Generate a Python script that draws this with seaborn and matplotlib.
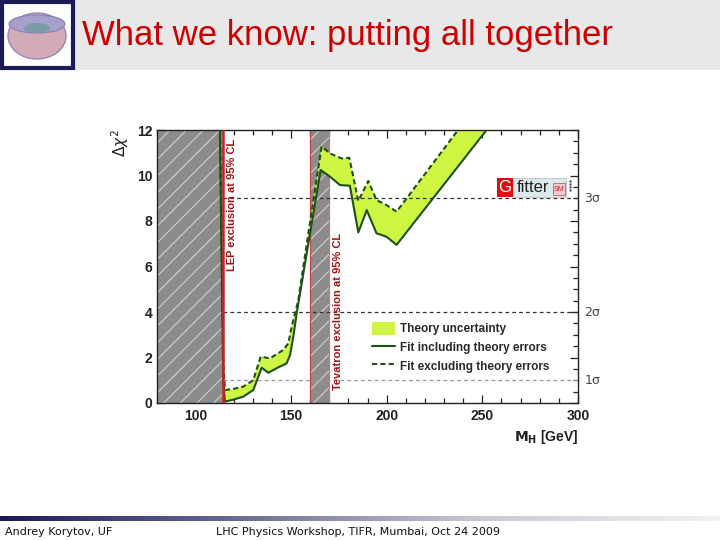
import numpy as np
import matplotlib
matplotlib.use("Agg")
import matplotlib.pyplot as plt
import seaborn as sns
from matplotlib.patches import Rectangle, Ellipse, Patch
from matplotlib.lines import Line2D
from matplotlib.colors import LinearSegmentedColormap
from matplotlib.ticker import MultipleLocator, FixedLocator
import matplotlib.transforms as mtransforms

# ---------------- data ----------------
mh_incl = [112.8, 113.8, 114.6, 115.5, 120.0, 125.1, 130.3, 134.7, 138.2, 143.0,
           147.7, 149.5, 151.2, 153.0, 160.0, 165.5, 170.4, 175.6, 180.8, 185.2,
           189.6, 194.7, 199.9, 205.2, 255.0]
chi2_incl = [12.3, 6.0, 1.0, 0.06, 0.15, 0.28, 0.57, 1.55, 1.33, 1.55,
             1.74, 2.1, 2.9, 3.94, 7.47, 10.24, 9.95, 9.58, 9.55, 7.5,
             8.48, 7.46, 7.31, 6.95, 12.3]

mh_excl = [112.9, 114.0, 114.8, 115.6, 120.0, 125.1, 130.3, 134.2, 139.0, 146.0,
           148.6, 150.4, 153.8, 160.0, 166.0, 170.4, 176.5, 180.5, 185.2, 190.4,
           194.7, 199.9, 205.2, 240.0]
chi2_excl = [12.3, 6.0, 1.5, 0.57, 0.62, 0.72, 1.0, 2.04, 1.96, 2.33,
             2.62, 3.35, 4.5, 7.95, 11.27, 10.97, 10.75, 10.78, 8.88, 9.76,
             8.92, 8.7, 8.41, 12.3]

lep_limit = 114.4
tev_range = [160.0, 170.0]
sigma_levels = [1, 4, 9]
sigma_labels = ["1σ", "2σ", "3σ"]
x_major = [100, 150, 200, 250, 300]

title = "What we know: putting all together"
footer_left = "Andrey Korytov, UF"
footer_mid = "LHC Physics Workshop, TIFR, Mumbai, Oct 24 2009"
legend_labels = ["Theory uncertainty", "Fit including theory errors",
                 "Fit excluding theory errors"]

# ---------------- style ----------------
sns.set_style("white")
plt.rcParams["font.family"] = ["Liberation Sans", "DejaVu Sans"]
plt.rcParams["hatch.linewidth"] = 0.8

band_col = "#cdf542"
line_col = "#1f4f1a"
gray_col = "#8c8c8c"
red_col = "#cc2222"
text_red = "#9a1515"

fig = plt.figure(figsize=(7.2, 5.4), dpi=100)

# background / slide decoration axes in pixel coords
bg = fig.add_axes([0, 0, 1, 1], zorder=0)
bg.set_xlim(0, 720)
bg.set_ylim(540, 0)
bg.axis("off")

grad_cmap = LinearSegmentedColormap.from_list("g", ["#1b1b55", "#6c6c95", "#c8c8d4", "#f2f2f2"])
grad = np.linspace(0, 1, 256)[None, :]
bg.add_patch(Rectangle((0, 0), 720, 70, color="#e8e8e8", lw=0))
bg.imshow(grad, cmap=grad_cmap, extent=(0, 720, 3, 0), aspect="auto")
bg.imshow(grad, cmap=grad_cmap, extent=(0, 720, 70, 64), aspect="auto")
bg.imshow(grad, cmap=grad_cmap, extent=(0, 720, 521, 516), aspect="auto")
bg.set_xlim(0, 720)
bg.set_ylim(540, 0)
# logo box
bg.add_patch(Rectangle((1.5, 1.5), 71, 66, facecolor="white", edgecolor="#1b1b55", lw=3))
bg.add_patch(Ellipse((37, 36), 58, 46, facecolor="#d2aab8", edgecolor="#9a8ab0", lw=1))
bg.add_patch(Ellipse((37, 24), 56, 18, facecolor="#a6a0cc", edgecolor="#8a80b0", lw=0.8))
bg.add_patch(Ellipse((37, 28), 26, 10, facecolor="#7c9aa8", edgecolor="none"))
bg.text(82, 35, title, color="#cc0000", fontsize=25, va="center", ha="left")
bg.text(5, 532, footer_left, fontsize=8, va="center", ha="left", color="#111111",
        family=["DejaVu Sans"])
bg.text(216, 532, footer_mid, fontsize=8, va="center", ha="left", color="#111111",
        family=["DejaVu Sans"])

# ---------------- main plot ----------------
ax = fig.add_axes([157 / 720, 1 - 403 / 540, 421 / 720, 273 / 540], zorder=2)
ax.set_xlim(80, 300)
ax.set_ylim(0, 12)

# excluded regions
ax.axvspan(80, lep_limit, facecolor=gray_col, edgecolor="#d0d0d0", hatch="//", lw=0, zorder=1)
ax.axvspan(tev_range[0], tev_range[1], facecolor=gray_col, edgecolor="#d0d0d0", hatch="//", lw=0, zorder=1)
ax.axvline(lep_limit, color=red_col, lw=1.8, zorder=6)
ax.axvline(tev_range[0], color="#d04040", lw=0.9, zorder=1.5)
ax.axvline(tev_range[1], color="#e07070", lw=0.9, zorder=1.5)

# theory band
poly_x = np.concatenate([mh_incl, mh_excl[::-1]])
poly_y = np.concatenate([chi2_incl, chi2_excl[::-1]])
ax.fill(poly_x, poly_y, color=band_col, lw=0, zorder=2)

# sigma lines
for lvl in sigma_levels:
    c = "#999999" if lvl == 1 else "#333333"
    ax.plot([lep_limit, 300], [lvl, lvl], color=c, lw=0.9, ls=(0, (3, 2.5)), zorder=3)

# fit curves
sns.lineplot(x=mh_incl, y=chi2_incl, ax=ax, color=line_col, lw=1.5, estimator=None,
             sort=False, zorder=4)
sns.lineplot(x=mh_excl, y=chi2_excl, ax=ax, color=line_col, lw=1.5, estimator=None,
             sort=False, zorder=4, linestyle=(0, (2.5, 1.5)))

# annotation texts
ax.text(119.0, 11.6, "LEP exclusion at 95% CL", rotation=90, color=text_red,
        fontsize=8, fontweight="bold", ha="center", va="top", zorder=5)
ax.text(174.6, 7.5, "Tevatron exclusion at 95% CL", rotation=90, color=text_red,
        fontsize=8, fontweight="bold", ha="center", va="top", zorder=5)

# sigma labels at right
trans = mtransforms.blended_transform_factory(ax.transAxes, ax.transData)
for lvl, lab in zip(sigma_levels, sigma_labels):
    ax.text(1.015, lvl, lab, transform=trans, fontsize=9, color="#444444",
            va="center", ha="left", family=["DejaVu Sans"])

# ticks
ax.xaxis.set_major_locator(FixedLocator(x_major))
ax.xaxis.set_minor_locator(MultipleLocator(10))
ax.yaxis.set_major_locator(MultipleLocator(2))
ax.yaxis.set_minor_locator(MultipleLocator(0.5))
ax.tick_params(which="both", direction="in", top=True, right=True, bottom=True, left=True,
               colors="#222222", labelsize=10, width=0.9)
ax.tick_params(which="major", length=6)
ax.tick_params(which="minor", length=3.5)
ax.tick_params(axis="x", pad=4)
for lab in ax.get_xticklabels() + ax.get_yticklabels():
    lab.set_fontweight("bold")
for s in ax.spines.values():
    s.set_visible(True)
    s.set_color("#222222")
    s.set_linewidth(1.0)
ax.set_xlabel("")
ax.set_ylabel("")

fig.text(120 / 720, 1 - 143 / 540, r"$\Delta\chi^2$", rotation=90, fontsize=11,
         ha="center", va="center", color="#222222")
fig.text(578 / 720, 1 - 437 / 540, r"$\mathbf{M_H}$ [GeV]", fontsize=10, fontweight="bold",
         ha="right", va="center", color="#222222")

# legend
handles = [Patch(facecolor=band_col, edgecolor="none"),
           Line2D([0], [0], color=line_col, lw=1.5),
           Line2D([0], [0], color=line_col, lw=1.5, ls=(0, (2.5, 1.5)))]
leg = ax.legend(handles, legend_labels, loc="upper left", bbox_to_anchor=(0.5, 0.315),
                frameon=False, prop={"weight": "bold", "size": 8.5}, handlelength=1.9,
                handleheight=1.3, labelspacing=0.45, handletextpad=0.45, borderaxespad=0)
for t in leg.get_texts():
    t.set_color("#2a2a2a")
leg.set_zorder(7)

# Gfitter logo (pixel coordinates on overlay axes)
ov = fig.add_axes([0, 0, 1, 1], zorder=5)
ov.set_xlim(0, 720)
ov.set_ylim(540, 0)
ov.axis("off")
ov.add_patch(Rectangle((497, 178), 16, 19, facecolor="#d41414", edgecolor="none"))
ov.add_patch(Rectangle((513, 178), 53, 19, facecolor="#dde8ea", edgecolor="#b0b8bb", lw=0.5))
ov.add_patch(Rectangle((553, 183), 12, 12, facecolor="#f2cccc", edgecolor="#d04040", lw=0.5))
ov.text(505, 188, "G", color="white", fontsize=12, ha="center", va="center")
ov.text(533, 187, "fitter", color="#222222", fontsize=12, ha="center", va="center")
ov.text(559, 189.5, "SM", color="#cc2222", fontsize=5, ha="center", va="center")
ov.plot([570, 570, 570, 570], [181, 184, 187, 190], ls="none", marker=".", ms=1.5, color="#555555")

fig.savefig("out.png", dpi=100)
